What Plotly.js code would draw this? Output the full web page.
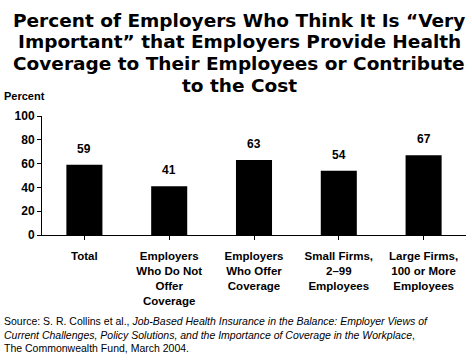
<!DOCTYPE html>
<html><head><meta charset="utf-8">
<script src="https://cdn.plot.ly/plotly-3.0.1.min.js"></script>
<style>html,body{margin:0;padding:0;background:#fff}#chart{width:472px;height:360px}</style>
</head><body><div id="chart"></div>
<script>
const categories = ["Total", "Employers<br>Who Do Not<br>Offer<br>Coverage", "Employers<br>Who Offer<br>Coverage", "Small Firms,<br>2–99<br>Employees", "Large Firms,<br>100 or More<br>Employees"];
const values = [59, 41, 63, 54, 67];
const yTicks = [0, 20, 40, 60, 80, 100];
const titleLines = ["Percent of Employers Who Think It Is “Very", "Important” that Employers Provide Health", "Coverage to Their Employees or Contribute", "to the Cost"];
const sourceText = "Source: S. R. Collins et al., <i>Job-Based Health Insurance in the Balance: Employer Views of</i><br><i>Current Challenges, Policy Solutions, and the Importance of Coverage in the Workplace</i>,<br>The Commonwealth Fund, March 2004.";

const font = "Liberation Sans, Arial, sans-serif";
const titleFont = "DejaVu Sans, Verdana, sans-serif";
const xIdx = categories.map((c, i) => i);

const trace = {
  type: "bar", x: xIdx, y: values,
  marker: {color: "#000"}, hoverinfo: "skip"
};

const annotations = values.map((v, i) => ({
  x: i, y: v, xref: "x", yref: "y", text: "<b>" + v + "</b>",
  showarrow: false, yanchor: "bottom", yshift: 7,
  font: {family: font, size: 12, color: "#000"}
}));
titleLines.forEach((t, i) => annotations.push({
  xref: "paper", yref: "paper", x: 0.5, y: 1, xanchor: "center", yanchor: "middle",
  xshift: -15, yshift: 96 - i * 21.7,
  text: "<b>" + t + "</b>", showarrow: false,
  font: {family: titleFont, size: 18.5, color: "#000"}
}));
annotations.push({
  xref: "paper", yref: "paper", x: 0, y: 1, xanchor: "left", yanchor: "bottom",
  xshift: -40, yshift: 12,
  text: "<b>Percent</b>", showarrow: false, font: {family: font, size: 11, color: "#000"}
});
annotations.push({
  xref: "paper", yref: "paper", x: 0, y: 0, xanchor: "left", yanchor: "top", align: "left",
  xshift: -40, yshift: -78,
  text: sourceText, showarrow: false, font: {family: font, size: 10.5, color: "#000"}
});

const layout = {
  width: 472, height: 360,
  margin: {l: 42, r: 6, t: 116, b: 125},
  paper_bgcolor: "#fff", plot_bgcolor: "#fff",
  showlegend: false,
  bargap: 0.575,
  xaxis: {
    tickvals: xIdx, ticktext: categories.map(c => "<b>" + c + "</b>"),
    range: [-0.5, 4.5], tickson: "boundaries", ticks: "outside", ticklen: 4,
    tickcolor: "#000", showline: true, linecolor: "#000", linewidth: 1,
    showgrid: false, zeroline: false, tickangle: 0, ticklabelstandoff: 6,
    tickfont: {family: font, size: 11.5, color: "#000"}
  },
  yaxis: {
    range: [0, 100], tickvals: yTicks, ticktext: yTicks.map(t => "<b>" + t + "</b>"),
    ticks: "outside", ticklen: 4, tickcolor: "#000",
    showline: true, linecolor: "#000", linewidth: 1,
    showgrid: false, zeroline: false,
    tickfont: {family: font, size: 12, color: "#000"}
  },
  annotations: annotations
};

Plotly.newPlot("chart", [trace], layout, {staticPlot: true, displayModeBar: false});
</script></body></html>
